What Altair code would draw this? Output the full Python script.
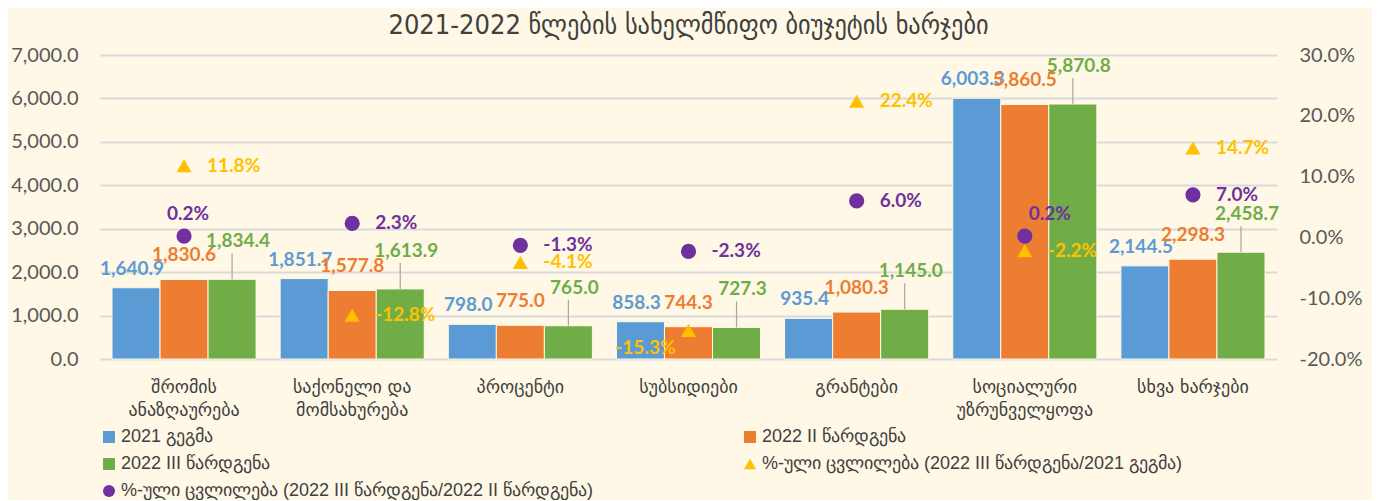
import altair as alt
import pandas as pd

categories = [
    "შრომის\nანაზღაურება",
    "საქონელი და\nმომსახურება",
    "პროცენტი",
    "სუბსიდიები",
    "გრანტები",
    "სოციალური\nუზრუნველყოფა",
    "სხვა ხარჯები",
]
plan_2021 = [1640.9, 1851.7, 798.0, 858.3, 935.4, 6003.3, 2144.5]
sub_2022_ii = [1830.6, 1577.8, 775.0, 744.3, 1080.3, 5860.5, 2298.3]
sub_2022_iii = [1834.4, 1613.9, 765.0, 727.3, 1145.0, 5870.8, 2458.7]
pct_iii_vs_2021 = [11.8, -12.8, -4.1, -15.3, 22.4, -2.2, 14.7]
pct_iii_vs_ii = [0.2, 2.3, -1.3, -2.3, 6.0, 0.2, 7.0]

bar_series = ["2021 გეგმა", "2022 II წარდგენა", "2022 III წარდგენა"]
pct_series = [
    "%-ული ცვლილება (2022 III წარდგენა/2021 გეგმა)",
    "%-ული ცვლილება (2022 III წარდგენა/2022 II წარდგენა)",
]
# where each percentage label sits relative to its marker
label_side_iii_vs_2021 = ["right", "right", "right", "below-left", "right", "right", "right"]
label_side_iii_vs_ii = ["above", "right", "right", "right", "right", "above-right", "right"]

all_series = bar_series + pct_series
colors = ["#5B9BD5", "#ED7D31", "#70AD47", "#FFC000", "#7030A0"]
shapes = ["square", "square", "square", "triangle-up", "circle"]

BG = "#FFF8E6"
NUM_FONT = "Lato"
GEO_FONT = "DejaVu Sans"

bar_rows = []
for s, vals in zip(bar_series, [plan_2021, sub_2022_ii, sub_2022_iii]):
    for c, v in zip(categories, vals):
        bar_rows.append({"category": c, "series": s, "value": v})
bars_df = pd.DataFrame(bar_rows)

pct_rows = []
for s, vals, sides in zip(
    pct_series,
    [pct_iii_vs_2021, pct_iii_vs_ii],
    [label_side_iii_vs_2021, label_side_iii_vs_ii],
):
    for c, v, sd in zip(categories, vals, sides):
        pct_rows.append({"category": c, "series": s, "pct": v / 100.0, "side": sd})
pct_df = pd.DataFrame(pct_rows)

x_enc = alt.X(
    "category:N",
    sort=categories,
    scale=alt.Scale(domain=categories, paddingInner=0.143, paddingOuter=0.0714),
    axis=alt.Axis(
        title=None,
        labelAngle=0,
        labelExpr="split(datum.label, '\\n')",
        labelFont=GEO_FONT,
        labelFontSize=18,
        labelColor="#404040",
        labelLineHeight=23,
        labelPadding=19,
        labelLimit=300,
        ticks=False,
        domain=False,
        grid=False,
    ),
)
xoff_enc = alt.XOffset("series:N", scale=alt.Scale(domain=bar_series, paddingInner=0.0))

y_left = alt.Y(
    "value:Q",
    scale=alt.Scale(domain=[0, 7000], nice=False),
    axis=alt.Axis(
        title=None,
        values=[0, 1000, 2000, 3000, 4000, 5000, 6000, 7000],
        format=",.1f",
        labelFont=NUM_FONT,
        labelFontSize=20,
        labelColor="#595959",
        labelPadding=22,
        ticks=False,
        domain=False,
        grid=True,
        gridColor="#D9D9D9",
        gridWidth=2,
    ),
)

color_enc = alt.Color(
    "series:N",
    scale=alt.Scale(domain=all_series, range=colors),
    legend=alt.Legend(title=None),
)

bars = alt.Chart(bars_df).mark_bar(stroke=BG, strokeWidth=1).encode(
    x=x_enc,
    xOffset=xoff_enc,
    y=y_left,
    color=color_enc,
)

# leader lines from the green bars up to their labels
leaders = (
    alt.Chart(bars_df[bars_df["series"] == bar_series[2]])
    .mark_rule(color="#A6A6A6", strokeWidth=1.2, y2Offset=-26)
    .encode(x=x_enc, xOffset=xoff_enc, y=y_left, y2=alt.Y2("value:Q"))
)

label_offsets = {bar_series[0]: (-4, -19), bar_series[1]: (0, -24), bar_series[2]: (6, -38)}
bar_texts = []
for s, col in zip(bar_series, colors[:3]):
    dx, dy = label_offsets[s]
    bar_texts.append(
        alt.Chart(bars_df[bars_df["series"] == s])
        .mark_text(font=NUM_FONT, fontSize=19, fontWeight="bold", color=col, dx=dx, dy=dy, baseline="middle")
        .encode(
            x=x_enc,
            xOffset=xoff_enc,
            y=y_left,
            text=alt.Text("value:Q", format=",.1f"),
        )
    )

left = alt.layer(bars, leaders, *bar_texts)

y_right = alt.Y(
    "pct:Q",
    scale=alt.Scale(domain=[-0.2, 0.3], nice=False),
    axis=alt.Axis(
        title=None,
        orient="right",
        values=[-0.2, -0.1, 0.0, 0.1, 0.2, 0.3],
        format=".1%",
        labelFont=NUM_FONT,
        labelFontSize=20,
        labelColor="#595959",
        labelPadding=22,
        ticks=False,
        domain=False,
        grid=False,
    ),
)

points = alt.Chart(pct_df).mark_point(filled=True, size=230, opacity=1).encode(
    x=x_enc,
    y=y_right,
    color=color_enc,
    shape=alt.Shape("series:N", scale=alt.Scale(domain=all_series, range=shapes), legend=alt.Legend(title=None)),
)

side_styles = {
    "right": dict(dx=23, dy=0, align="left"),
    "above": dict(dx=4, dy=-22, align="center"),
    "above-right": dict(dx=4, dy=-22, align="left"),
    "below-left": dict(dx=-13, dy=18, align="right"),
}
pct_texts = []
for s, col in zip(pct_series, colors[3:]):
    for side, st in side_styles.items():
        sub = pct_df[(pct_df["series"] == s) & (pct_df["side"] == side)]
        if len(sub) == 0:
            continue
        pct_texts.append(
            alt.Chart(sub)
            .mark_text(font=NUM_FONT, fontSize=19, fontWeight="bold", color=col, baseline="middle", **st)
            .encode(
                x=x_enc,
                y=y_right,
                text=alt.Text("pct:Q", format=".1%"),
            )
        )

right = alt.layer(points, *pct_texts)

chart = (
    alt.layer(left, right)
    .resolve_scale(y="independent")
    .properties(
        width=1177,
        height=304,
        padding={"left": 2, "top": 4, "right": 10, "bottom": 0},
        title=alt.TitleParams(
            "2021-2022 წლების სახელმწიფო ბიუჯეტის ხარჯები",
            font="DejaVu Sans Condensed",
            fontSize=27,
            fontWeight="normal",
            color="#404040",
            anchor="middle",
            offset=5,
        ),
    )
    .configure(
        background=BG,
        locale={
            "number": {
                "decimal": ".",
                "thousands": ",",
                "grouping": [3],
                "currency": ["$", ""],
                "minus": "-",
            }
        },
    )
    .configure_view(stroke=None)
    .configure_legend(
        orient="none",
        legendX=0,
        legendY=373,
        direction="horizontal",
        columns=2,
        columnPadding=147,
        rowPadding=9,
        symbolSize=144,
        labelFont="Liberation Sans",
        labelFontSize=18,
        labelColor="#404040",
        labelOffset=3,
        labelLimit=700,
        symbolStrokeWidth=0,
    )
)

chart.save("out.html", embed_options={"renderer": "svg", "actions": False})
